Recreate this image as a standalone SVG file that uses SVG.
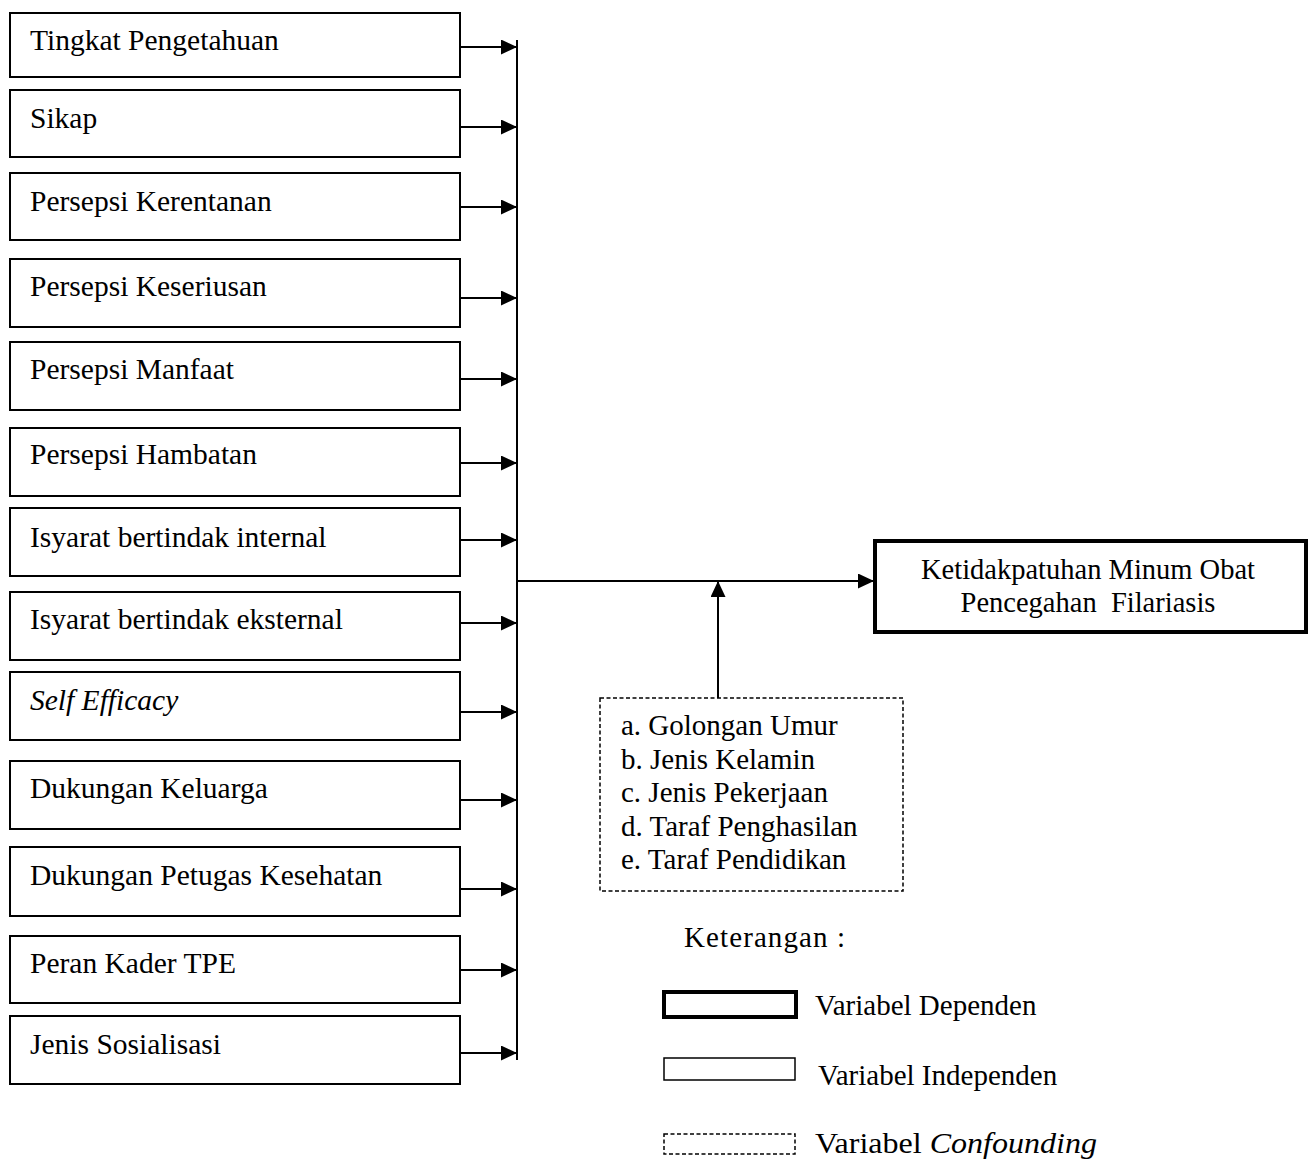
<svg xmlns="http://www.w3.org/2000/svg" width="1315" height="1161" viewBox="0 0 1315 1161">
<style>
  text { font-family: "Liberation Serif", "Times New Roman", serif; font-size: 29px; fill: #000; }
  .nt { font-size: 29.5px; }
  .box { fill: #fff; stroke: #000; stroke-width: 2; }
  .dep { fill: #fff; stroke: #000; stroke-width: 4; }
  .conf { fill: #fff; stroke: #000; stroke-width: 1.5; stroke-dasharray: 4 2.5; }
  .ln { fill: none; stroke: #000; stroke-width: 2; }
  .arr { fill: none; stroke: #000; stroke-width: 2; marker-end: url(#ah); }
  .it { font-style: italic; }
  .dt { font-size: 28.5px; text-anchor: middle; }
</style>
<defs>
  <marker id="ah" markerWidth="16" markerHeight="15" refX="16" refY="7.5" orient="auto" markerUnits="userSpaceOnUse">
    <path d="M0,0 L16,7.5 L0,15 z" fill="#000"/>
  </marker>
</defs>
<rect width="1315" height="1161" fill="#fff"/>

<g id="n1"><rect class="box" x="10" y="13" width="450" height="64"/><text class="nt" x="30" y="50">Tingkat Pengetahuan</text></g>
<g id="n2"><rect class="box" x="10" y="90" width="450" height="67"/><text class="nt" x="30" y="128">Sikap</text></g>
<g id="n3"><rect class="box" x="10" y="173" width="450" height="67"/><text class="nt" x="30" y="211">Persepsi Kerentanan</text></g>
<g id="n4"><rect class="box" x="10" y="259" width="450" height="68"/><text class="nt" x="30" y="296">Persepsi Keseriusan</text></g>
<g id="n5"><rect class="box" x="10" y="342" width="450" height="68"/><text class="nt" x="30" y="379">Persepsi Manfaat</text></g>
<g id="n6"><rect class="box" x="10" y="428" width="450" height="68"/><text class="nt" x="30" y="464">Persepsi Hambatan</text></g>
<g id="n7"><rect class="box" x="10" y="508" width="450" height="68"/><text class="nt" x="30" y="547">Isyarat bertindak internal</text></g>
<g id="n8"><rect class="box" x="10" y="592" width="450" height="68"/><text class="nt" x="30" y="629">Isyarat bertindak eksternal</text></g>
<g id="n9"><rect class="box" x="10" y="672" width="450" height="68"/><text class="nt it" x="30" y="710">Self Efficacy</text></g>
<g id="n10"><rect class="box" x="10" y="761" width="450" height="68"/><text class="nt" x="30" y="798">Dukungan Keluarga</text></g>
<g id="n11"><rect class="box" x="10" y="847" width="450" height="69"/><text class="nt" x="30" y="885">Dukungan Petugas Kesehatan</text></g>
<g id="n12"><rect class="box" x="10" y="936" width="450" height="67"/><text class="nt" x="30" y="973">Peran Kader TPE</text></g>
<g id="n13"><rect class="box" x="10" y="1016" width="450" height="68"/><text class="nt" x="30" y="1054">Jenis Sosialisasi</text></g>

<g id="dependent">
  <rect class="dep" x="875" y="541" width="431" height="91"/>
  <text class="dt" x="1088" y="579">Ketidakpatuhan Minum Obat</text>
  <text class="dt" x="1088" y="612" xml:space="preserve">Pencegahan  Filariasis</text>
</g>

<g id="confounding">
  <rect class="conf" x="600" y="698" width="303" height="193"/>
  <text x="621" y="735">a. Golongan Umur</text>
  <text x="621" y="769">b. Jenis Kelamin</text>
  <text x="621" y="802">c. Jenis Pekerjaan</text>
  <text x="621" y="836">d. Taraf Penghasilan</text>
  <text x="621" y="869">e. Taraf Pendidikan</text>
</g>

<g id="connectors">
  <line class="arr" x1="460" y1="47" x2="517" y2="47"/>
  <line class="arr" x1="460" y1="127" x2="517" y2="127"/>
  <line class="arr" x1="460" y1="207" x2="517" y2="207"/>
  <line class="arr" x1="460" y1="298" x2="517" y2="298"/>
  <line class="arr" x1="460" y1="379" x2="517" y2="379"/>
  <line class="arr" x1="460" y1="463" x2="517" y2="463"/>
  <line class="arr" x1="460" y1="540" x2="517" y2="540"/>
  <line class="arr" x1="460" y1="623" x2="517" y2="623"/>
  <line class="arr" x1="460" y1="712" x2="517" y2="712"/>
  <line class="arr" x1="460" y1="800" x2="517" y2="800"/>
  <line class="arr" x1="460" y1="889" x2="517" y2="889"/>
  <line class="arr" x1="460" y1="970" x2="517" y2="970"/>
  <line class="arr" x1="460" y1="1053" x2="517" y2="1053"/>
  <line class="ln" x1="517" y1="40" x2="517" y2="1060"/>
  <line class="arr" x1="517" y1="581" x2="874" y2="581"/>
  <line class="arr" x1="718" y1="698" x2="718" y2="581"/>
</g>

<g id="legend">
  <text x="684" y="947" textLength="161" lengthAdjust="spacing">Keterangan :</text>
  <rect class="dep" x="664" y="992" width="132" height="25"/>
  <text x="815" y="1015">Variabel Dependen</text>
  <rect class="box" x="664" y="1058" width="131" height="22" style="stroke-width:1.5"/>
  <text x="818" y="1085">Variabel Independen</text>
  <rect class="conf" x="664" y="1134" width="131" height="20"/>
  <text x="815" y="1153" textLength="282" lengthAdjust="spacingAndGlyphs">Variabel <tspan class="it">Confounding</tspan></text>
</g>
</svg>
